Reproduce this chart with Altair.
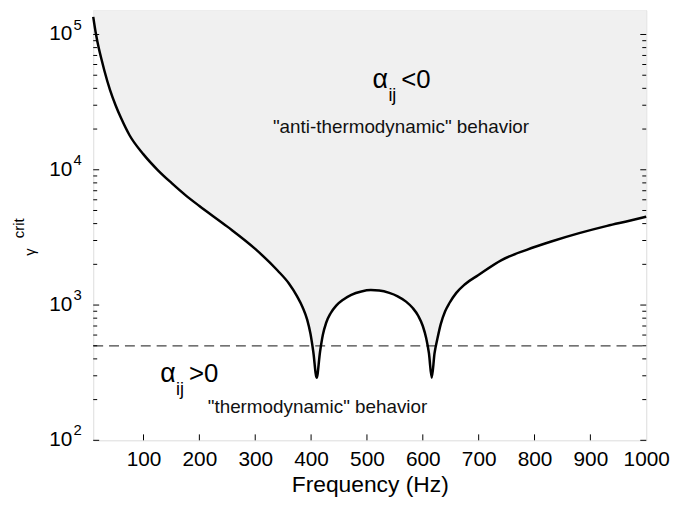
import altair as alt
import pandas as pd

# ---- data ----
freq = [10, 15, 20, 25, 30, 40, 50, 60, 75, 100, 125, 150, 175, 200, 250, 300, 340, 360,
        375, 385, 393, 399, 404, 410, 416, 421, 427, 435, 445, 458, 472, 490, 507, 522,
        540, 555, 570, 582, 592, 600, 606, 611, 616, 621, 626, 632, 640, 648, 660, 675,
        699, 741, 786, 830, 880, 930, 970, 1000]
gamma_crit = [1.35e5, 1.0e5, 7.9e4, 6.5e4, 5.4e4, 3.9e4, 3.0e4, 2.4e4, 1.8e4, 1.3e4, 1.0e4,
              8.0e3, 6.5e3, 5.4e3, 3.8e3, 2.6e3, 1.8e3, 1.45e3, 1160, 960, 780, 610, 450,
              290, 450, 600, 740, 870, 990, 1100, 1190, 1260, 1290, 1280, 1230, 1160, 1060,
              950, 830, 700, 570, 440, 290, 440, 560, 720, 900, 1040, 1230, 1420, 1660,
              2150, 2560, 2950, 3400, 3850, 4200, 4500]
threshold = [500]
x_ticks = [100, 200, 300, 400, 500, 600, 700, 800, 900, 1000]
y_major = [100, 1000, 10000, 100000]
y_exp = ["2", "3", "4", "5"]
y_minor = [m * d for d in (100, 1000, 10000) for m in range(2, 10)]
y_top = 1.512e5

# annotation anchors in data coordinates
neg_anchor = {"f": [510], "v": [4.0e4]}
neg_desc = {"f": [561], "v": [1.86e4], "t": ['"anti-thermodynamic" behavior']}
pos_anchor = {"f": [130], "v": [270]}
pos_desc = {"f": [215], "v": [158], "t": ['"thermodynamic" behavior']}

W, H = 558, 434
FONT = "Liberation Sans"
xs = alt.Scale(domain=[10, 1000], nice=False, zero=False)
ys = alt.Scale(type="log", domain=[100, y_top], nice=False)

curve = pd.DataFrame({"f": freq, "v": gamma_crit})

area = alt.Chart(curve).mark_area(color="#f0f0f0", interpolate="monotone").encode(
    x=alt.X("f:Q", scale=xs, axis=alt.Axis(values=x_ticks, title="Frequency (Hz)",
                                          format="d",
                                          ticks=False, domain=False, grid=False,
                                          labelOverlap=False, labelFlush=False,
                                          labelBound=False,
                                          labelFontSize=21, labelPadding=8,
                                          titleFontSize=23, titlePadding=5,
                                          labelFont=FONT, titleFont=FONT,
                                          titleFontWeight="normal",
                                          labelColor="black", titleColor="black")),
    y=alt.Y("v:Q", scale=ys, axis=None),
    y2=alt.datum(y_top),
)
line = alt.Chart(curve).mark_line(color="black", strokeWidth=2.5, interpolate="monotone").encode(
    x=alt.X("f:Q", scale=xs), y=alt.Y("v:Q", scale=ys))

dash = alt.Chart(pd.DataFrame({"v": threshold})).mark_rule(
    color="#444", strokeWidth=1.3, strokeDash=[10, 6]).encode(
    y=alt.Y("v:Q", scale=ys), x=alt.value(0), x2=alt.value(W))

ymaj = pd.DataFrame({"v": y_major, "e": y_exp})
ymin = pd.DataFrame({"v": y_minor})
tick_layers = []
for df, ln in ((ymaj, 6), (ymin, 4)):
    tick_layers.append(alt.Chart(df).mark_rule(color="black", strokeWidth=1).encode(
        y=alt.Y("v:Q", scale=ys), x=alt.value(0), x2=alt.value(ln)))
    tick_layers.append(alt.Chart(df).mark_rule(color="black", strokeWidth=1).encode(
        y=alt.Y("v:Q", scale=ys), x=alt.value(W), x2=alt.value(W - ln)))
xt = alt.Chart(pd.DataFrame({"f": x_ticks[:-1]})).mark_rule(color="black", strokeWidth=1).encode(
    x=alt.X("f:Q", scale=xs), y=alt.value(H), y2=alt.value(H - 6))

ylab = alt.Chart(ymaj).mark_text(font=FONT, fontSize=21, align="right", baseline="middle",
                                 color="black").encode(
    y=alt.Y("v:Q", scale=ys), x=alt.value(-21), text=alt.value("10"))
yexp = alt.Chart(ymaj).mark_text(font=FONT, fontSize=15, align="left", baseline="middle",
                                 dy=-10, color="black").encode(
    y=alt.Y("v:Q", scale=ys), x=alt.value(-20), text="e:N")


def alpha_label(anchor, op):
    df = pd.DataFrame(anchor)
    base = alt.Chart(df).encode(x=alt.X("f:Q", scale=xs), y=alt.Y("v:Q", scale=ys))
    a = base.mark_text(font=FONT, fontSize=27, align="left", baseline="alphabetic",
                       color="black").encode(text=alt.value("α"))
    s = base.mark_text(font=FONT, fontSize=18, align="left", baseline="alphabetic",
                       dx=16, dy=13, color="black").encode(text=alt.value("ij"))
    o = base.mark_text(font=FONT, fontSize=26, align="left", baseline="alphabetic",
                       dx=29, color="black").encode(text=alt.value(op))
    return [a, s, o]


def desc_label(d, align):
    return alt.Chart(pd.DataFrame(d)).mark_text(font=FONT, fontSize=19, align=align,
                                                baseline="alphabetic", color="#111").encode(
        x=alt.X("f:Q", scale=xs), y=alt.Y("v:Q", scale=ys), text="t:N")


ytitle_g = alt.Chart(pd.DataFrame({"t": ["γ"]})).mark_text(
    font=FONT, fontSize=15, angle=270, align="center", baseline="middle", color="black").encode(
    x=alt.value(-64), y=alt.value(244), text="t:N")
ytitle_c = alt.Chart(pd.DataFrame({"t": ["crit"]})).mark_text(
    font=FONT, fontSize=15, angle=270, align="center", baseline="middle", color="black").encode(
    x=alt.value(-75), y=alt.value(220), text="t:N")

chart = alt.layer(
    area, dash, line, *tick_layers, xt, ylab, yexp,
    *alpha_label(neg_anchor, "<0"), desc_label(neg_desc, "center"),
    *alpha_label(pos_anchor, ">0"), desc_label(pos_desc, "left"),
    ytitle_g, ytitle_c,
).properties(
    width=W, height=H,
    autosize=alt.AutoSizeParams(type="none"),
    padding={"left": 86, "top": 0, "right": 27, "bottom": 60},
).configure_view(stroke="#222", strokeWidth=1.5).configure(background="white")

chart.save("out.html", embed_options={"renderer": "svg", "actions": False})
